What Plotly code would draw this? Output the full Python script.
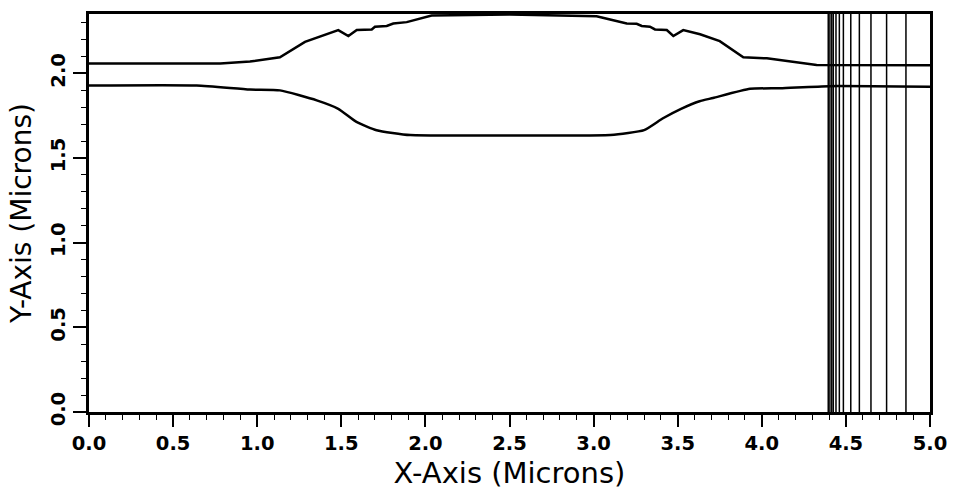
import plotly.graph_objects as go

# Upper interface curve
x_upper = [0.0, 0.78, 0.957, 1.135, 1.284, 1.482, 1.542, 1.592, 1.681, 1.700, 1.770, 1.809,
           1.889, 1.988, 2.037, 2.5, 3.018, 3.098, 3.197, 3.256, 3.286, 3.335, 3.365, 3.435,
           3.474, 3.533, 3.633, 3.75, 3.89, 4.03, 4.326, 5.0]
y_upper = [2.058, 2.058, 2.069, 2.094, 2.185, 2.255, 2.220, 2.255, 2.259, 2.275, 2.279, 2.294,
           2.302, 2.327, 2.341, 2.347, 2.337, 2.318, 2.294, 2.292, 2.279, 2.275, 2.259, 2.255,
           2.220, 2.255, 2.230, 2.19, 2.094, 2.088, 2.049, 2.048]

# Lower interface curve
x_lower = [0.0, 0.64, 0.957, 1.135, 1.354, 1.482, 1.59, 1.71, 1.91, 2.5, 3.10, 3.30, 3.41,
           3.52, 3.63, 3.71, 3.93, 4.11, 4.40, 5.0]
y_lower = [1.928, 1.928, 1.904, 1.899, 1.84, 1.790, 1.713, 1.664, 1.635, 1.633, 1.635, 1.664,
           1.733, 1.79, 1.835, 1.854, 1.908, 1.912, 1.924, 1.920]

# Vertical mesh lines on the right
x_mesh = [4.395, 4.405, 4.416, 4.425, 4.441, 4.461, 4.485, 4.529, 4.580, 4.649, 4.742, 4.857]

x_range = [0.0, 5.0]
y_range = [0.0, 2.35]

fig = go.Figure()

fig.add_trace(go.Scatter(x=x_upper, y=y_upper, mode="lines",
                         line=dict(color="black", width=2.5), hoverinfo="skip"))
fig.add_trace(go.Scatter(x=x_lower, y=y_lower, mode="lines",
                         line=dict(color="black", width=2.5, shape="spline", smoothing=0.5),
                         hoverinfo="skip"))

mx, my = [], []
for xv in x_mesh:
    mx += [xv, xv, None]
    my += [y_range[0], y_range[1], None]
fig.add_trace(go.Scatter(x=mx, y=my, mode="lines", line=dict(color="black", width=1.5),
                         hoverinfo="skip"))

tick_font = dict(family="DejaVu Sans", size=19.5, color="black", weight="bold")

fig.update_layout(
    width=959, height=495,
    margin=dict(l=89, r=29, t=11, b=82),
    paper_bgcolor="white", plot_bgcolor="white",
    showlegend=False,
    xaxis=dict(
        range=x_range, dtick=0.5, tick0=0, tickformat=".1f",
        showgrid=False, zeroline=False,
        showline=True, linecolor="black", linewidth=2.5, mirror=True,
        ticks="outside", ticklen=12, tickwidth=1.6, tickcolor="black",
        minor=dict(dtick=0.1, ticks="outside", ticklen=5, tickwidth=1.3, tickcolor="black"),
        tickfont=tick_font,
        title=dict(text="X-Axis (Microns)", font=dict(family="DejaVu Sans", size=29, color="black"),
                   standoff=9),
    ),
    yaxis=dict(
        range=y_range, dtick=0.5, tick0=0, tickformat=".1f",
        showgrid=False, zeroline=False,
        showline=True, linecolor="black", linewidth=2.5, mirror=True,
        ticks="outside", ticklen=13, tickwidth=1.6, tickcolor="black",
        minor=dict(dtick=0.1, ticks="outside", ticklen=5, tickwidth=1.3, tickcolor="black"),
        tickfont=tick_font, tickangle=-90,
        title=dict(text="Y-Axis (Microns)", font=dict(family="DejaVu Sans", size=28, color="black"),
                   standoff=8),
    ),
)

fig.write_html("out.html")
